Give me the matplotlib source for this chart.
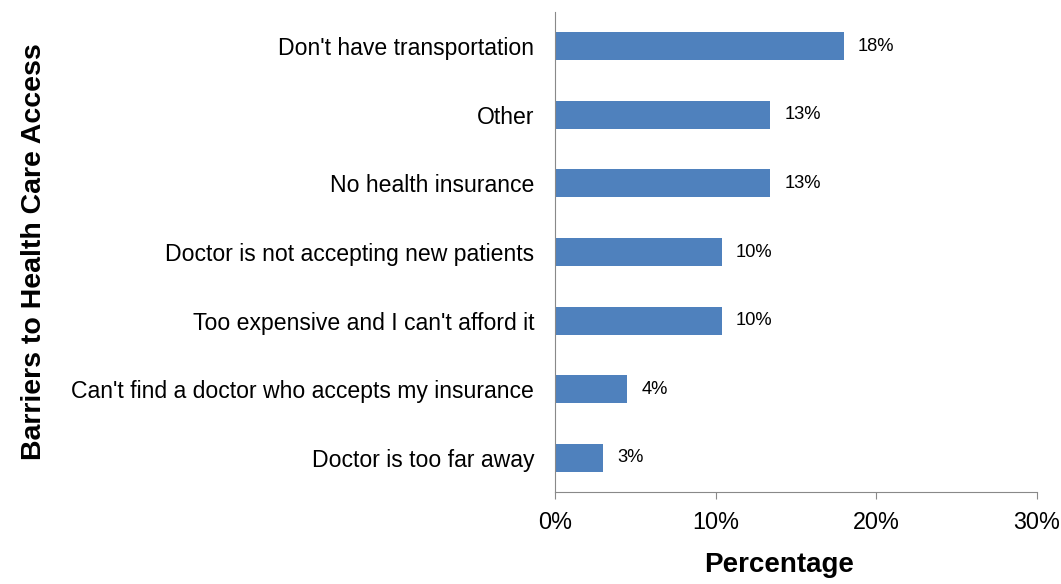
import matplotlib
matplotlib.use('Agg')
import matplotlib.pyplot as plt
from matplotlib.ticker import FuncFormatter

plt.rcParams['font.family'] = ['Liberation Sans', 'DejaVu Sans']

# ── Data ───────────────────────────────────────────────────────────────────────
barriers = [
    "Don't have transportation",
    "Other",
    "No health insurance",
    "Doctor is not accepting new patients",
    "Too expensive and I can't afford it",
    "Can't find a doctor who accepts my insurance",
    "Doctor is too far away",
]
percent = [18.0, 13.4, 13.4, 10.4, 10.4, 4.5, 3.0]
labels = ["18%", "13%", "13%", "10%", "10%", "4%", "3%"]
x_ticks = [0, 10, 20, 30]

BAR_COLOR = '#4F81BD'
AXIS_COLOR = '#898989'

fig = plt.figure(figsize=(10.61, 5.84), dpi=100)
ax = fig.add_axes([555 / 1061, 92 / 584, 482 / 1061, 480 / 584])

y = list(range(len(barriers)))
ax.barh(y, percent, height=0.41, color=BAR_COLOR)
for yi, v, lab in zip(y, percent, labels):
    ax.annotate(lab, (v, yi), xytext=(10, 0), textcoords='offset points',
                va='center', ha='left', fontsize=13.2)

ax.set_xlim(0, 30)
ax.set_ylim(len(barriers) - 0.5, -0.5)
ax.set_yticks(y)
ax.set_yticklabels(barriers, fontsize=16.6)
ax.set_xticks(x_ticks)
ax.xaxis.set_major_formatter(FuncFormatter(lambda v, _: f"{v:.0f}%"))
ax.tick_params(axis='x', labelsize=16.8, length=5, color=AXIS_COLOR, pad=9)
ax.tick_params(axis='y', length=0, pad=15)

for side in ('top', 'right'):
    ax.spines[side].set_visible(False)
for side in ('left', 'bottom'):
    ax.spines[side].set_color(AXIS_COLOR)

ax.set_xlabel('Percentage', fontsize=20, fontweight='bold')
ax.xaxis.set_label_coords(0.465, -0.125)
ax.set_ylabel('Barriers to Health Care Access', fontsize=20.5, fontweight='bold')
ax.yaxis.set_label_coords(-1.054, 0.5)

fig.savefig('out.png', dpi=100)
